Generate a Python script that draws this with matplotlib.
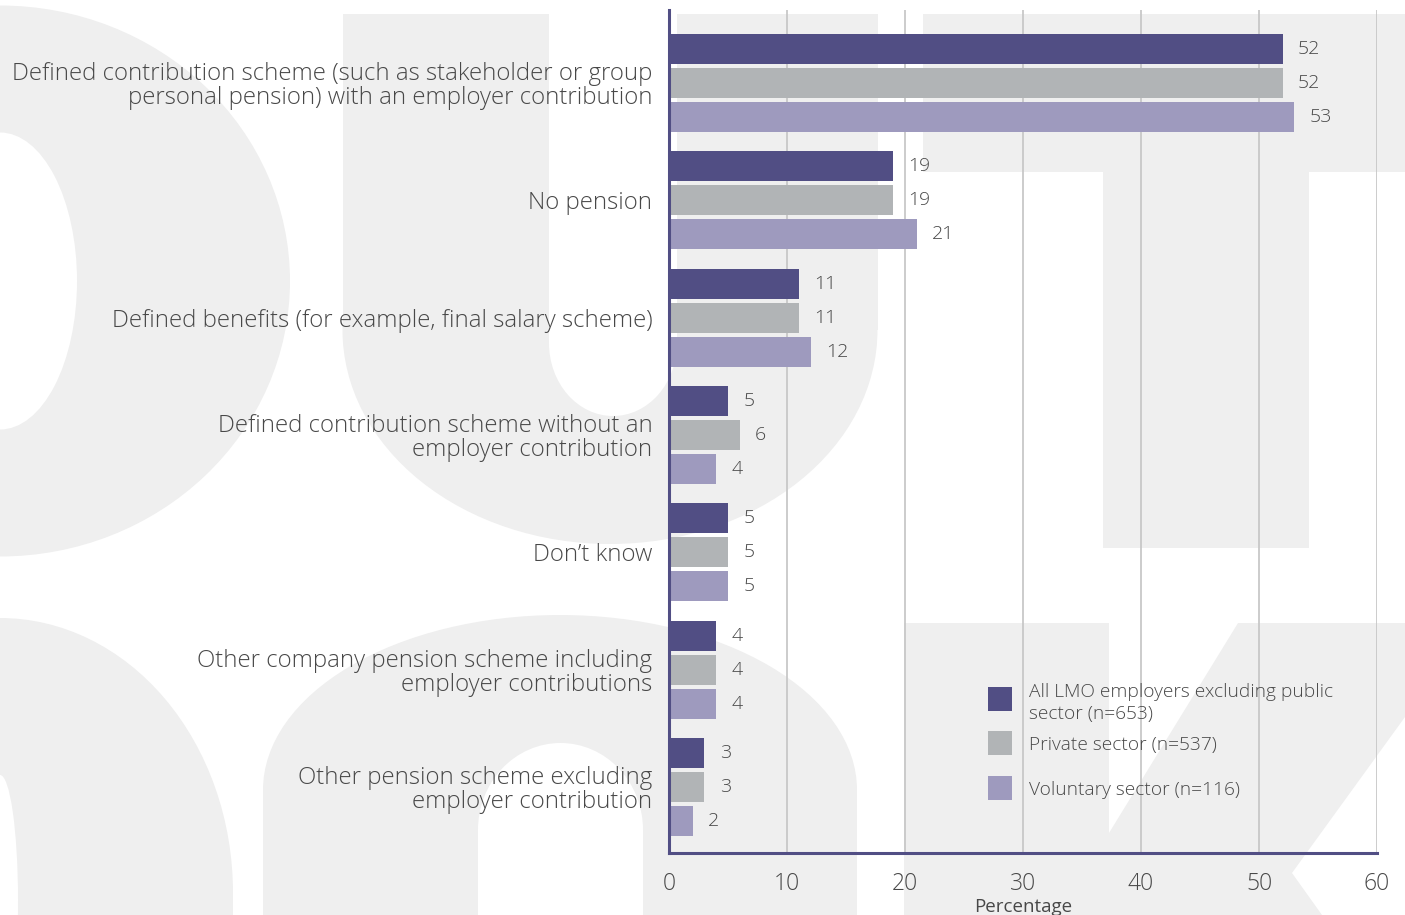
import matplotlib
matplotlib.use("Agg")
import matplotlib.pyplot as plt
from matplotlib.patches import Ellipse, Rectangle, Polygon
import numpy as np

plt.rcParams['font.family'] = ['Open Sans', 'DejaVu Sans']
plt.rcParams['font.weight'] = 'light'

categories = [
    "Defined contribution scheme (such as stakeholder or group\npersonal pension) with an employer contribution",
    "No pension",
    "Defined benefits (for example, final salary scheme)",
    "Defined contribution scheme without an\nemployer contribution",
    "Don\u2019t know",
    "Other company pension scheme including\nemployer contributions",
    "Other pension scheme excluding\nemployer contribution",
]
all_lmo = [52, 19, 11, 5, 5, 4, 3]
private = [52, 19, 11, 6, 5, 4, 3]
voluntary = [53, 21, 12, 4, 5, 4, 2]

series_names = [
    "All LMO employers excluding public\nsector (n=653)",
    "Private sector (n=537)",
    "Voluntary sector (n=116)",
]
colors = ['#514e84', '#b1b4b6', '#9e9abe']
text_col = '#484848'
wm_col = '#efefef'

W, H = 1405, 915
fig = plt.figure(figsize=(W / 100, H / 100), dpi=100)

# big faint lettering in the background (pixel coordinates, y downwards)
bg = fig.add_axes([0, 0, 1, 1], zorder=0)
bg.set_xlim(0, W)
bg.set_ylim(H, 0)
bg.axis('off')
# p
bg.add_patch(Ellipse((0, 281), 580, 551, color=wm_col, lw=0))
bg.add_patch(Ellipse((0, 281), 154, 297, color='white', lw=0))
# u
bg.add_patch(Rectangle((343, 14), 535, 316, color=wm_col, lw=0))
bg.add_patch(Ellipse((610, 330), 535, 428, color=wm_col, lw=0))
bg.add_patch(Rectangle((549, 0), 128, 343, color='white', lw=0))
bg.add_patch(Ellipse((613, 343), 128, 146, color='white', lw=0))
# t
bg.add_patch(Rectangle((923, 14), 482, 158, color=wm_col, lw=0))
bg.add_patch(Rectangle((1103, 14), 206, 534, color=wm_col, lw=0))
# n (cut at left edge)
bg.add_patch(Ellipse((0, 893), 466, 550, color=wm_col, lw=0))
bg.add_patch(Rectangle((0, 893), 233, 30, color=wm_col, lw=0))
bg.add_patch(Ellipse((0, 900), 36, 250, color='white', lw=0))
# n
bg.add_patch(Rectangle((263, 790), 594, 130, color=wm_col, lw=0))
bg.add_patch(Ellipse((560, 790), 594, 350, color=wm_col, lw=0))
bg.add_patch(Rectangle((478, 830), 165, 90, color='white', lw=0))
bg.add_patch(Ellipse((560.5, 830), 165, 174, color='white', lw=0))
# k
bg.add_patch(Polygon([(904, 623), (1109, 623), (1109, 833), (1238, 623), (1405, 623),
                      (1405, 717), (1292, 873), (1322, 915), (904, 915)],
                     closed=True, color=wm_col, lw=0))

# main chart
ax = fig.add_axes([669 / W, 1 - 853 / H, 708 / W, 843 / H], zorder=1)
ax.patch.set_alpha(0)

y = np.arange(len(categories))
bar_h = 0.2557
step = 0.29
for k, (vals, col) in enumerate(zip([all_lmo, private, voluntary], colors)):
    pos = y + (k - 1) * step
    ax.barh(pos, vals, height=bar_h, color=col, zorder=2)
    for p, v in zip(pos, vals):
        ax.annotate(str(v), (v, p), xytext=(11, 0), textcoords='offset points',
                    ha='left', va='center', fontsize=14, color=text_col)

ax.set_xlim(0, 60)
ax.set_ylim(6.5625, -0.622)
ax.set_xticks(range(0, 61, 10))
ax.set_yticks(y)
ax.set_yticklabels(categories, fontsize=17.3, color=text_col, linespacing=1.0)
ax.tick_params(axis='y', length=0, pad=12)
ax.tick_params(axis='x', length=0, pad=14, labelsize=16.5, labelcolor=text_col)
ax.grid(axis='x', color='#c8c8c8', lw=1.3)
ax.set_axisbelow(True)
for side in ['top', 'right']:
    ax.spines[side].set_visible(False)
for side in ['left', 'bottom']:
    ax.spines[side].set_color(colors[0])
    ax.spines[side].set_linewidth(2.2)
ax.set_xlabel('Percentage', fontsize=13.5, color=text_col, labelpad=1)

# legend drawn in pixel space
ov = fig.add_axes([0, 0, 1, 1], zorder=3)
ov.set_xlim(0, W)
ov.set_ylim(H, 0)
ov.axis('off')
sq_top = [687, 731, 776]
txt_y = [703, 745, 790]
for name, col, st, ty in zip(series_names, colors, sq_top, txt_y):
    ov.add_patch(Rectangle((988, st), 24, 24, color=col, lw=0))
    ov.text(1029, ty, name, ha='left', va='center', fontsize=13.8,
            color=text_col, linespacing=1.25)

fig.savefig('out.png', dpi=100)
